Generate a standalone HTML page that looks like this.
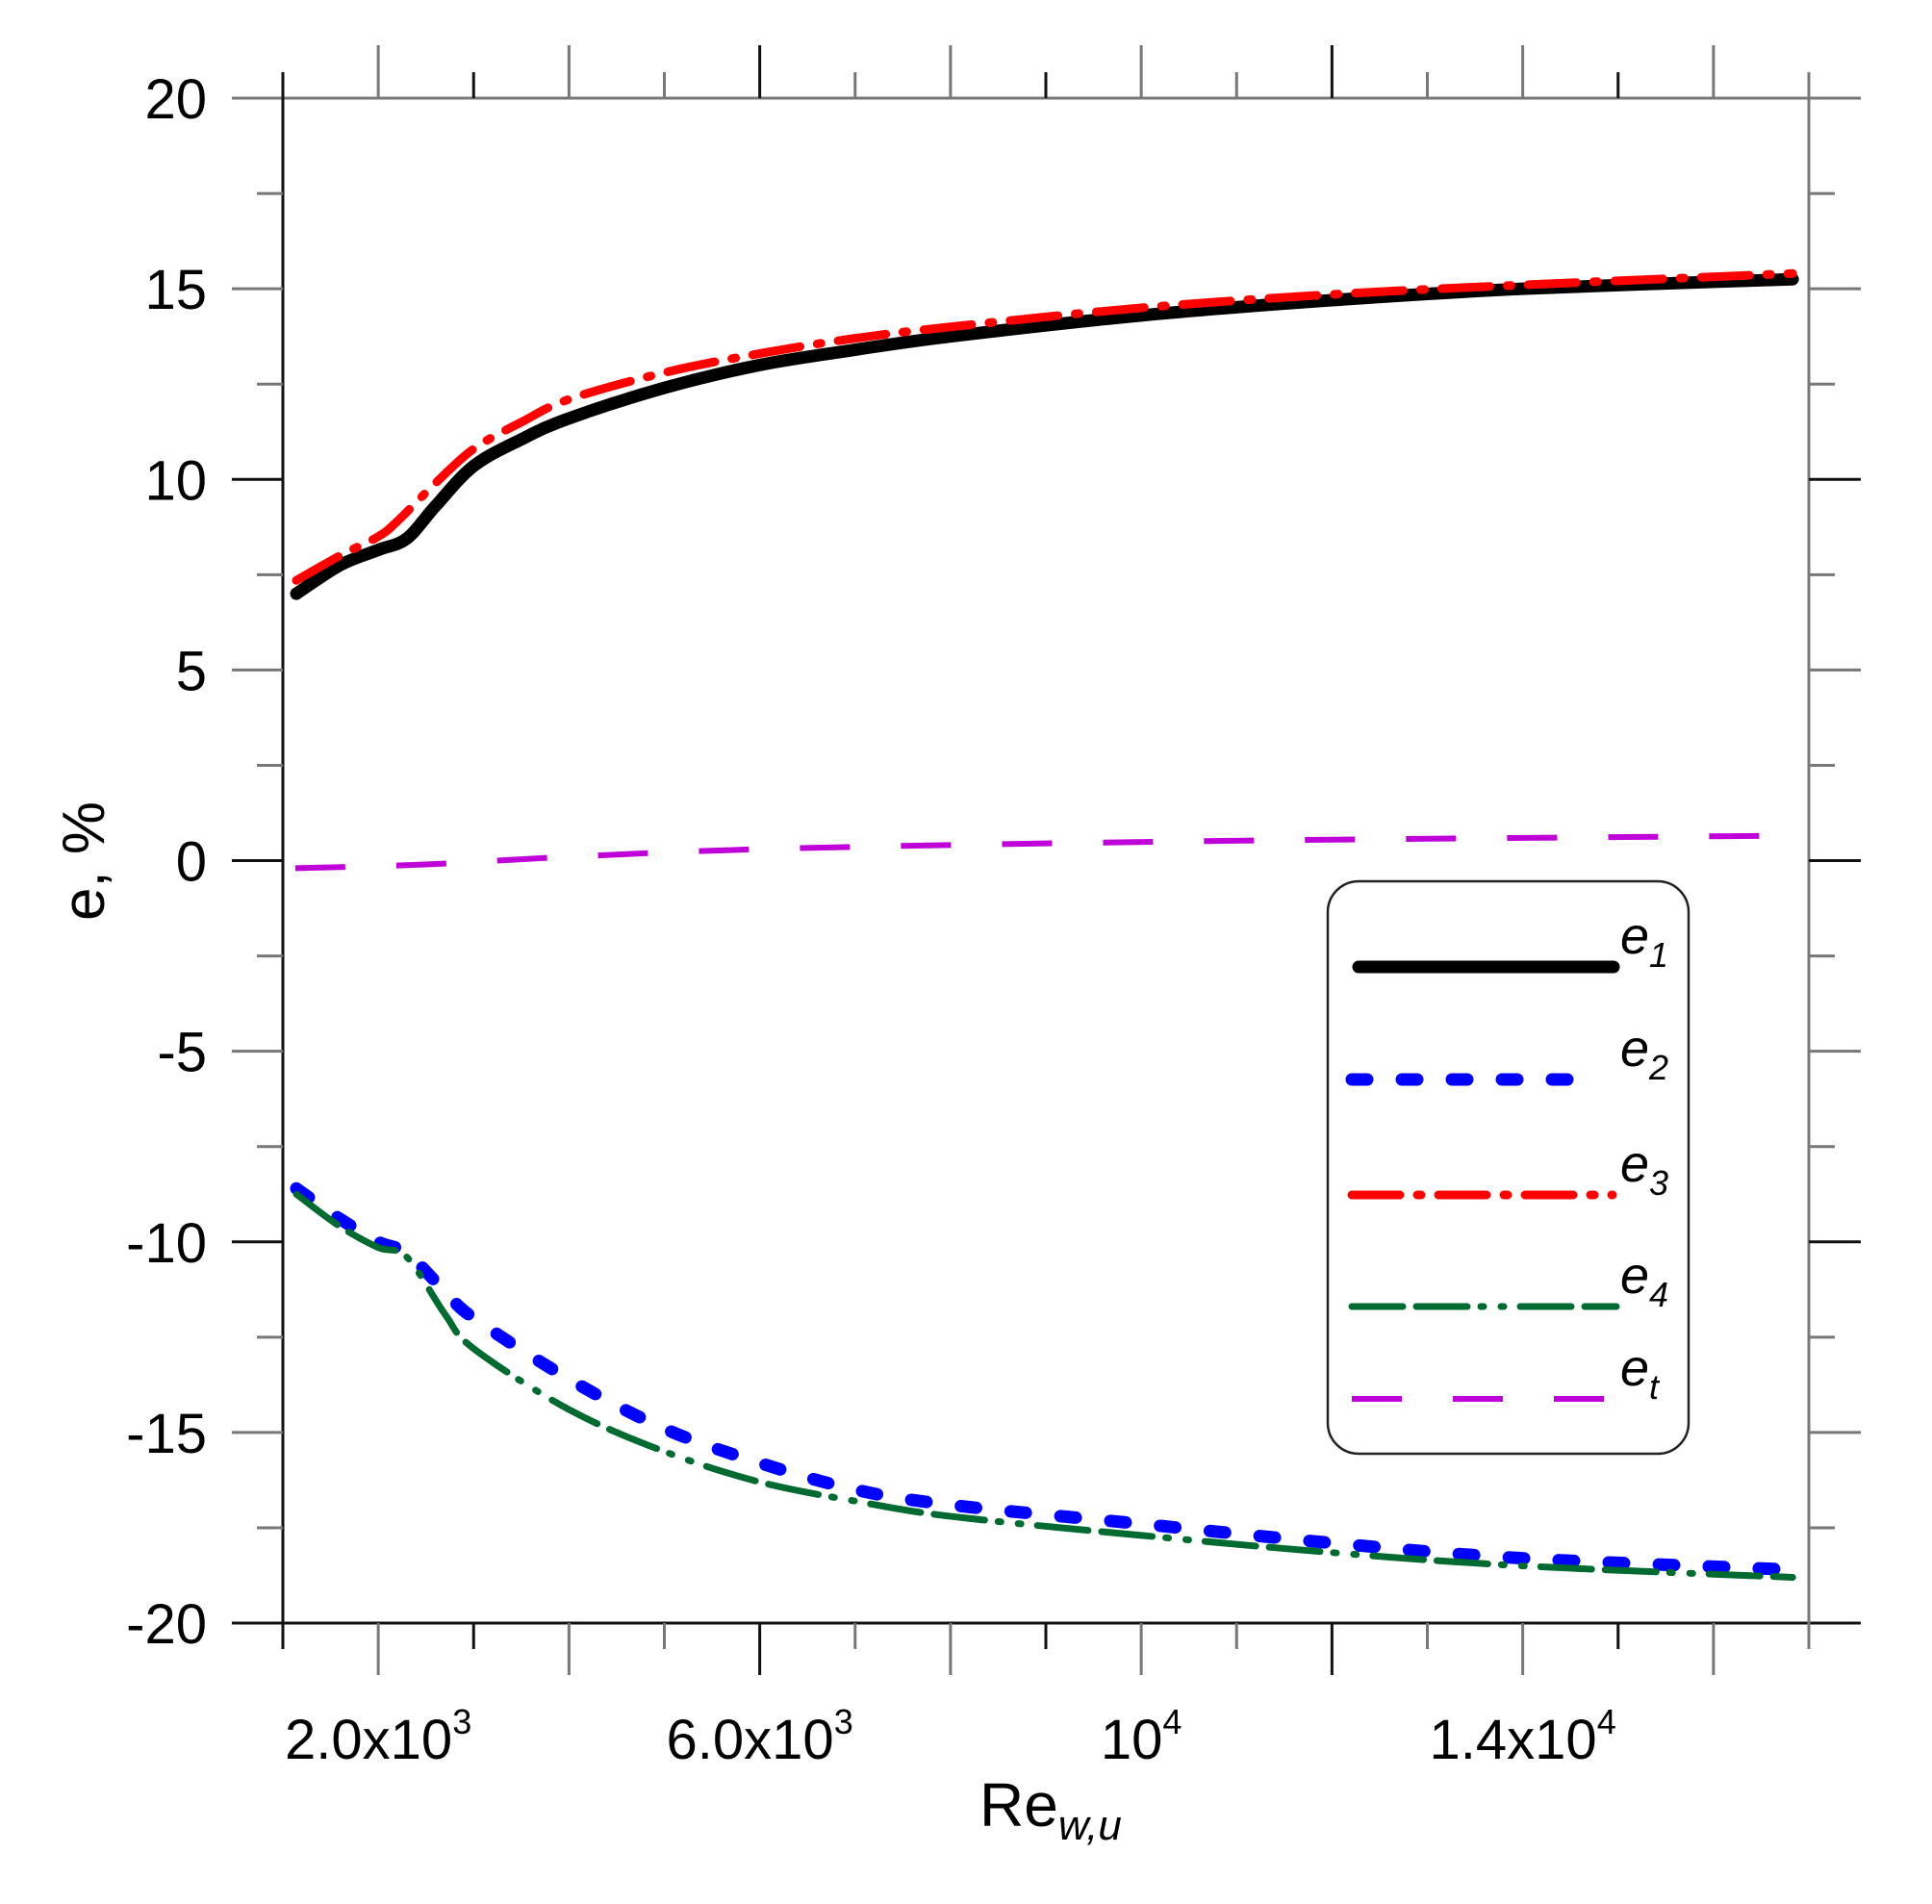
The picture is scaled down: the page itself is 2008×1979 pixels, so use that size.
<!DOCTYPE html>
<html><head><meta charset="utf-8"><style>
html,body{margin:0;padding:0;background:#fff;}
svg{display:block;}
text{font-family:"Liberation Sans",Arial,sans-serif;fill:#000;}
</style></head><body>
<svg id="s" width="2008" height="1979" viewBox="0 0 2008 1979" xmlns="http://www.w3.org/2000/svg">
<rect width="2008" height="1979" fill="#fff"/>
<g id="axes" stroke-width="3"></g>
<g id="curves" fill="none" stroke-linejoin="round"></g>
<g id="labels" font-size="58"></g>
<text x="0" y="0" font-size="62" transform="translate(108,895) rotate(-90)" text-anchor="middle">e, %</text>
<text x="1018" y="1898" font-size="64">Re<tspan font-size="44" font-style="italic" dy="14">w,u</tspan></text>
<rect x="1380" y="916" width="375" height="595" rx="32" ry="32" fill="#fff" stroke="#222" stroke-width="2.5"/>
<g id="legend"></g>
</svg>
<script>
const NS="http://www.w3.org/2000/svg";
function el(p,t,a){const e=document.createElementNS(NS,t);for(const k in a)e.setAttribute(k,a[k]);p.appendChild(e);return e;}
const X=r=>294+(r-1000)*0.099125, Y=v=>102+(20-v)*39.625;
const ax=document.getElementById('axes');
function ln(x1,y1,x2,y2,c){el(ax,'line',{x1,y1,x2,y2,stroke:c||'#222','stroke-width':3});}
ln(241,102,1934,102,'#777'); ln(241,1687,1934,1687,'#111');
ln(294,75,294,1714,'#111'); ln(1880,75,1880,1714,'#777');
for(let r=2000;r<=16000;r+=1000){const x=X(r);const even=r%2000==0;const c=(r/1000)%3==0?'#111':'#777';
 ln(x,1687,x,even?1741:1714,c); ln(x,102,x,even?47:75,c);}
for(let v=-17.5;v<20;v+=2.5){const y=Y(v);const maj=Math.abs(v%5)<0.01;const c=maj&&v%10==0?'#111':'#777';
 ln(maj?241:267,y,294,y,c); ln(1880,y,maj?1934:1907,y,c);}
const lb=document.getElementById('labels');
for(let v=-20;v<=20;v+=5){const t=el(lb,'text',{x:215,y:Y(v)+21,'text-anchor':'end'});t.textContent=v;}
const xl=[[2000,'2.0x10','3'],[6000,'6.0x10','3'],[10000,'10','4'],[14000,'1.4x10','4']];
for(const [r,a,b] of xl){const t=el(lb,'text',{x:X(r),y:1828,'text-anchor':'middle'});t.textContent=a;const s=el(t,'tspan',{'font-size':36,dy:-26});s.textContent=b;}
function smooth(pts){const P=pts.map(p=>[X(p[0]),Y(p[1])]);let d='M'+P[0][0]+','+P[0][1];
 for(let i=0;i<P.length-1;i++){const p0=P[i-1]||P[i],p1=P[i],p2=P[i+1],p3=P[i+2]||p2;
  const c1=[p1[0]+(p2[0]-p0[0])/6,p1[1]+(p2[1]-p0[1])/6],c2=[p2[0]-(p3[0]-p1[0])/6,p2[1]-(p3[1]-p1[1])/6];
  d+=`C${c1[0]},${c1[1]} ${c2[0]},${c2[1]} ${p2[0]},${p2[1]}`;}return d;}
const cv=document.getElementById('curves');
const series=[
 {c:'#c000d8',w:6,da:'52 53',cap:'butt',p:[[1130,-0.2],[2500,-0.1],[4000,0.1],[6000,0.3],[9000,0.45],[12000,0.55],[16570,0.65]]},
 {c:'#000',w:13,da:'',cap:'round',p:[[1141,7.0],[1600,7.75],[2000,8.15],[2300,8.45],[2600,9.3],[3000,10.35],[3500,11.05],[4000,11.6],[5000,12.4],[6000,13.0],[7000,13.4],[8000,13.75],[10000,14.3],[12000,14.7],[14000,15.0],[16830,15.25]]},
 {c:'#f00',w:9,da:'50 18 4 18',cap:'round',p:[[1141,7.35],[1600,8.0],[2000,8.5],[2200,8.9],[2600,9.9],[3000,10.8],[3500,11.5],[4000,12.1],[5000,12.8],[6000,13.3],[7000,13.7],[8000,14.0],[10000,14.5],[12000,14.85],[14000,15.1],[16830,15.4]]},
 {c:'#00f',w:13,da:'16 36',cap:'round',p:[[1141,-8.6],[1600,-9.4],[2000,-10.0],[2300,-10.3],[2700,-11.3],[3000,-12.0],[4000,-13.6],[5000,-14.9],[6000,-15.8],[7000,-16.5],[8000,-16.9],[10000,-17.4],[12000,-17.9],[14000,-18.3],[16830,-18.6]]},
 {c:'#006a30',w:7,da:'53 14 53 14 3 18 3 17',cap:'round',p:[[1141,-8.75],[1600,-9.6],[2000,-10.15],[2300,-10.4],[2700,-11.9],[3000,-12.8],[4000,-14.4],[5000,-15.5],[6000,-16.3],[7000,-16.8],[8000,-17.2],[10000,-17.7],[12000,-18.15],[14000,-18.5],[16830,-18.8]]}
];
for(const s of series){const a={d:smooth(s.p),stroke:s.c,'stroke-width':s.w,'stroke-linecap':s.cap};if(s.da)a['stroke-dasharray']=s.da;el(cv,'path',a);}
const lg=document.getElementById('legend');
const rows=[[1005,1,'1'],[1122,3,'2'],[1242,2,'3'],[1358,4,'4'],[1454,0,'t']];
for(const [y,i,sub] of rows){const s=series[i];const a={x1:1405,y1:y,x2:1680,y2:y,stroke:s.c,'stroke-width':s.w,'stroke-linecap':s.cap};
 if(i==3){a.x2=1660;} if(i==1){a.x1=1412;a.x2=1677;} if(i==2)a.x2=1676;
 if(s.da)a['stroke-dasharray']=s.da;
 el(lg,'line',a);
 const t=el(lg,'text',{x:1684,y:y-14,'font-size':54,'font-style':'italic'});t.textContent='e';
 const ts=el(t,'tspan',{'font-size':36,dy:14});ts.textContent=sub;}
</script>
</body></html>
